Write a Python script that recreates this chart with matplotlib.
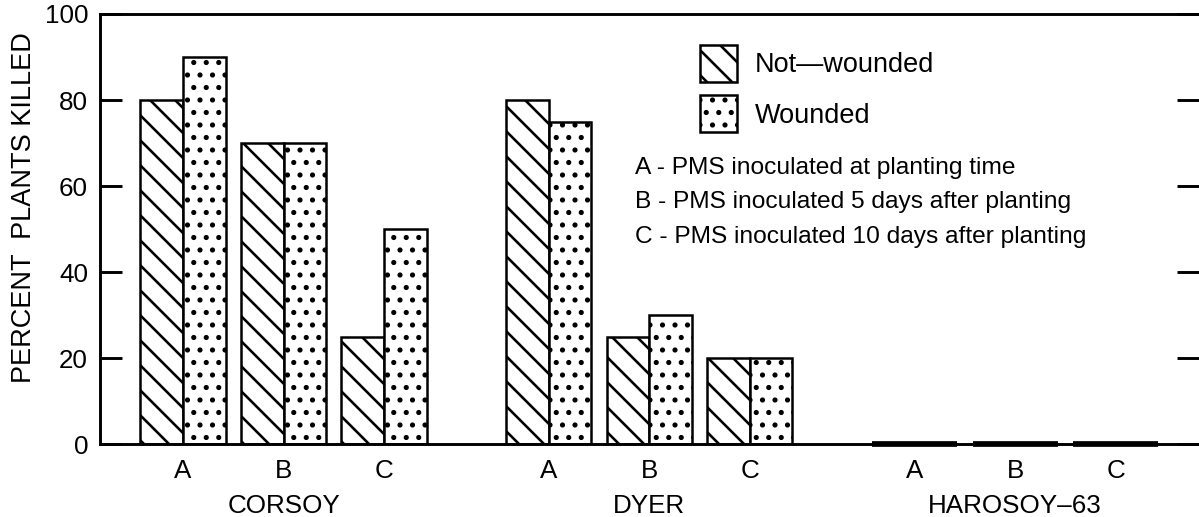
import matplotlib
matplotlib.use("Agg")
import matplotlib.pyplot as plt
import numpy as np

# Datos
variedades = ["CORSOY", "DYER", "HAROSOY\u201363"]
condiciones = ["A", "B", "C"]
no_heridas = [80, 70, 25, 80, 25, 20, 0, 0, 0]
heridas = [90, 70, 50, 75, 30, 20, 0, 0, 0]
notas = ["A - PMS inoculated at planting time",
         "B - PMS inoculated 5 days after planting",
         "C - PMS inoculated 10 days after planting"]
y_ticks = [0, 20, 40, 60, 80, 100]

plt.rcParams['font.family'] = ['Liberation Sans', 'DejaVu Sans']
plt.rcParams['hatch.linewidth'] = 2.5
plt.rcParams['hatch.color'] = 'black'

# dpi 75 -> el patron de rayado queda con ~12.5 px de separacion
dpi = 75
fig = plt.figure(figsize=(1199 / dpi, 517 / dpi), dpi=dpi)
ax = fig.add_axes([100 / 1199, 72.7 / 517, 1099 / 1199, 430.3 / 517])

salto = 3.64
ancho = 0.423
x = np.array([g * salto + c for g in range(len(variedades)) for c in range(len(condiciones))])

b1 = ax.bar(x, no_heridas, width=-ancho, align='edge', facecolor='white',
            edgecolor='black', linewidth=2.4, hatch='\\', label='Not\u2014wounded')
b2 = ax.bar(x, heridas, width=ancho, align='edge', facecolor='white',
            edgecolor='black', linewidth=2.4, hatch='.', label='Wounded')

# las barras con valor 0 se ven como una linea gruesa sobre el eje
for barras, valores in [(b1, no_heridas), (b2, heridas)]:
    for r, v in zip(barras, valores):
        if v == 0:
            r.set_linewidth(5.5)
            r.set_zorder(3)
            r.set_clip_on(False)

ax.set_xlim(-0.826, 10.11)
ax.set_ylim(0, 100)
ax.set_yticks(y_ticks)
ax.tick_params(axis='y', direction='in', length=21, width=2.8, right=True,
               labelsize=25, pad=11.5)
ax.set_xticks(x)
ax.set_xticklabels(condiciones * len(variedades))
ax.tick_params(axis='x', length=0, labelsize=25, pad=32.3)
for lab in ax.get_xticklabels():
    lab.set_va('baseline')

for lado in ['left', 'top', 'bottom']:
    ax.spines[lado].set_linewidth(2.8)
ax.spines['right'].set_visible(False)

# nombres de las variedades debajo de cada grupo
for g, nombre in enumerate(variedades):
    ax.annotate(nombre, xy=(g * salto + 1, 0), xycoords=('data', 'axes fraction'),
                xytext=(0, -65.5), textcoords='offset points',
                ha='center', va='baseline', fontsize=25)

ax.set_ylabel("PERCENT  PLANTS KILLED", fontsize=26)
ax.yaxis.label.set_va('center')
ax.yaxis.set_label_coords(-0.069, 0.551)

ley = ax.legend(loc='upper left', bbox_to_anchor=(0.546, 0.928), frameon=False,
                fontsize=26, borderpad=0, borderaxespad=0, handlelength=1.37,
                handleheight=1.72, handletextpad=0.66, labelspacing=0.5)

for i, nota in enumerate(notas):
    ax.text((635 - 100) / 1099, (444.3 - (174 + 34.5 * i)) / 430.3, nota,
            transform=ax.transAxes, ha='left', va='baseline', fontsize=23.5)

fig.savefig("out.png", dpi=dpi)
